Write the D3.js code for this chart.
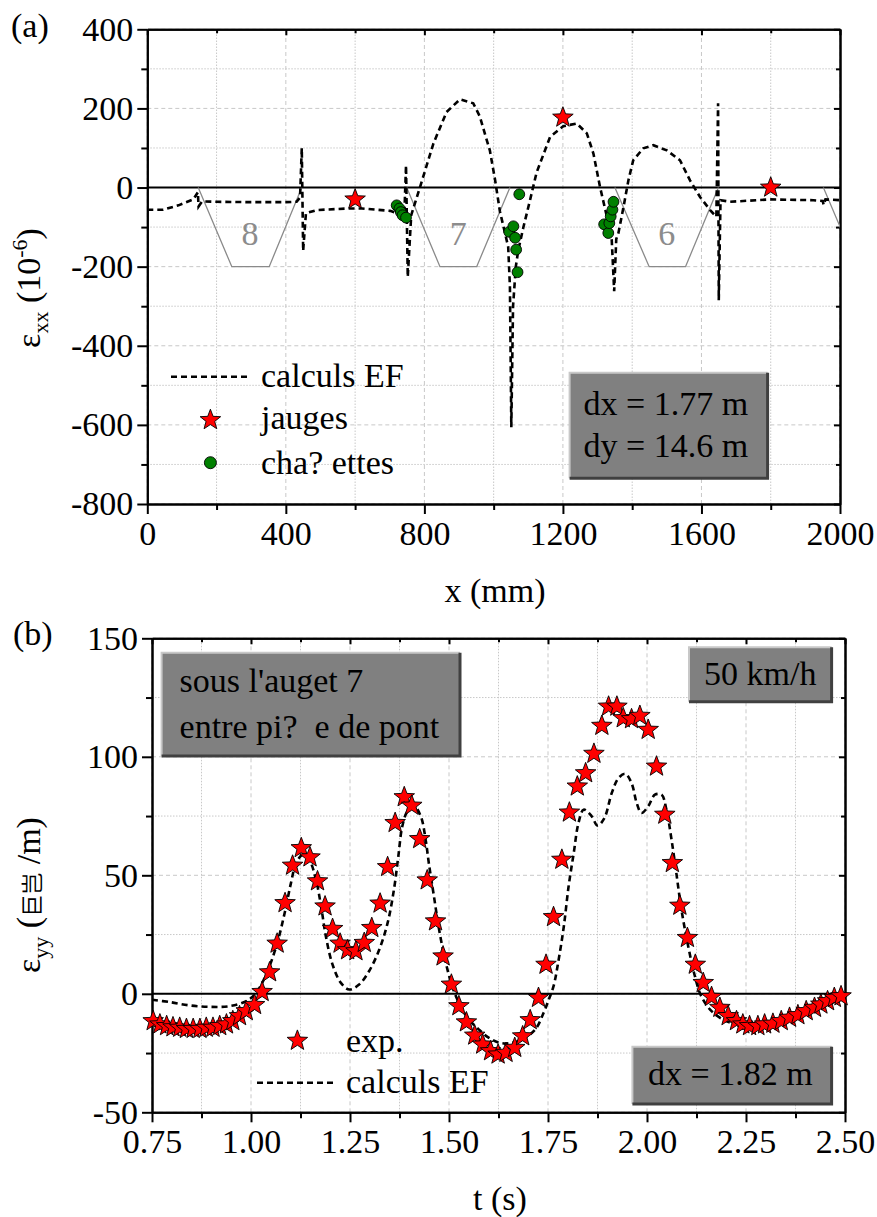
<!DOCTYPE html>
<html>
<head>
<meta charset="utf-8">
<script src="https://cdn.jsdelivr.net/npm/d3@7"></script>
<style>
  body { margin: 0; background: #fff; }
  svg text, svg tspan { font-family: 'Liberation Serif', 'LiberationSerif', 'Liberation Serif Regular', 'DejaVu Serif', 'Tinos', 'Times New Roman', Times, serif !important; }
  svg tspan.cjk { font-family: 'Noto Sans CJK SC', sans-serif !important; }
</style>
</head>
<body>
<svg id="fig" width="877" height="1217"></svg>
<script>
// ---------- panel (a) : strain along x ----------
const augetLabels = ['8', '7', '6', '']
const augetXs = [[147, 244, 352, 446], [749, 845, 951, 1047], [1350, 1449, 1554, 1649], [1952, 2049, 2155, 2252]]
const augetYs = [0, -200, -200, 0]

// calculs EF (mm, 1e-6)
const feAx = [0, 46, 90, 133, 146, 148, 158, 200, 300, 400, 431, 441, 446, 450, 458, 489, 576, 620, 701, 725, 742,
  747, 752, 762, 787, 826, 864, 903, 941, 960, 975, 989, 1004, 1018, 1030, 1042, 1047, 1051, 1056, 1064, 1071,
  1086, 1105, 1124, 1140, 1163, 1201, 1240, 1269, 1288, 1307, 1326, 1341, 1348, 1354, 1360, 1375, 1389, 1403,
  1432, 1461, 1500, 1538, 1567, 1596, 1625, 1643, 1648, 1650, 1655, 1683, 1798, 1923, 1950, 1953, 1958, 2000]
const feAy = [-56, -56, -45, -30, -12, -48, -35, -36, -37, -37, -36, -25, 100, -160, -65, -57, -53, -53, -59, -66, -72,
  56, -226, -70, 0, 111, 191, 223, 213, 180, 135, 94, 20, -60, -105, -150, -250, -606, -300, -200, -159,
  -100, -32, 38, 75, 128, 155, 162, 137, 86, 2, -70, -133, -262, -130, -116, -49, 18, 69,
  99, 107, 94, 69, 18, -24, -57, -74, 213, -285, -32, -36, -30, -32, -34, -44, -30, -32]

const jaugeX = [600, 1200, 1800]
const jaugeY = [-30, 177, 0]

const chainX = [720, 728, 732, 737, 747, 1074, 1045, 1057, 1062, 1065, 1069, 1319, 1331, 1334, 1338, 1343, 1346]
const chainY = [-45, -53, -62, -70, -76, -17, -112, -98, -127, -157, -214, -93, -115, -90, -73, -56, -36]

const aTicksX = [0, 400, 800, 1200, 1600, 2000]
const aMinorX = [200, 600, 1000, 1400, 1800]
const aTicksY = [-800, -600, -400, -200, 0, 200, 400]
const aMinorY = [-700, -500, -300, -100, 100, 300]

// ---------- panel (b) : strain vs time ----------
const expT = [0.753, 0.770, 0.787, 0.803, 0.820, 0.837, 0.854, 0.871, 0.887, 0.904, 0.921, 0.938, 0.954, 0.971, 0.988,
  1.009, 1.028, 1.047, 1.066, 1.086, 1.105, 1.127, 1.149, 1.168, 1.187, 1.206, 1.225, 1.244, 1.265, 1.286, 1.305,
  1.326, 1.345, 1.364, 1.387, 1.406, 1.426, 1.445, 1.466, 1.485, 1.506, 1.525, 1.544, 1.565, 1.585, 1.605, 1.624,
  1.644, 1.666, 1.686, 1.705, 1.726, 1.745, 1.764, 1.785, 1.804, 1.824, 1.845, 1.866, 1.886, 1.903, 1.924, 1.940,
  1.961, 1.982, 2.003, 2.024, 2.045, 2.064, 2.083, 2.102, 2.122, 2.142, 2.163, 2.184, 2.205, 2.226, 2.242, 2.259,
  2.280, 2.297, 2.318, 2.339, 2.360, 2.381, 2.402, 2.423, 2.439, 2.456, 2.473, 2.490]
const expV = [-11.5, -12.9, -13.6, -14.1, -14.3, -14.8, -14.8, -14.8, -14.3, -14.3, -13.6, -12.9, -11.5, -9.4, -7.3,
  -4.7, 0.8, 9.1, 21.2, 38.3, 54.1, 61.5, 57.6, 47.5, 36.9, 27.4, 21.2, 18.4, 18.0, 21.5, 27.8,
  38.1, 53.5, 72.1, 83.0, 79.4, 65.3, 47.9, 30.6, 15.8, 3.9, -5.2, -12.0, -17.6, -21.4, -24.2, -25.6,
  -24.9, -22.8, -17.9, -11.1, -1.7, 12.3, 32.4, 56.6, 76.5, 87.5, 93.1, 101.3, 113.1, 121.2, 121.2, 116.3,
  115.9, 117.3, 111.4, 95.9, 75.6, 55.2, 37.2, 23.6, 12.3, 4.6, -1.3, -5.9, -9.4, -11.5, -12.9, -13.6,
  -13.6, -12.9, -12.6, -11.5, -10.1, -9.0, -7.3, -5.9, -4.5, -3.1, -1.7, -1.0]

const feBt = [0.75, 0.795, 0.845, 0.896, 0.946, 0.988, 1.013, 1.038, 1.064, 1.085, 1.101, 1.114, 1.131, 1.147, 1.164,
  1.177, 1.189, 1.206, 1.227, 1.248, 1.273, 1.298, 1.324, 1.345, 1.361, 1.372, 1.382, 1.395, 1.412, 1.429, 1.441,
  1.449, 1.462, 1.475, 1.490, 1.508, 1.529, 1.550, 1.575, 1.600, 1.626, 1.651, 1.684, 1.718, 1.739, 1.752, 1.764,
  1.777, 1.790, 1.802, 1.815, 1.827, 1.840, 1.860, 1.875, 1.892, 1.911, 1.928, 1.945, 1.961, 1.974, 1.986, 2.003,
  2.020, 2.037, 2.049, 2.062, 2.074, 2.087, 2.104, 2.121, 2.137, 2.163, 2.20, 2.25, 2.30, 2.35, 2.40, 2.45, 2.50]
const feBv = [-2.5, -3.5, -4.9, -5.5, -5.2, -3.1, 0.4, 8.1, 20.1, 34.1, 46.8, 55.2, 58.7, 56.6, 48.2,
  36.9, 24.3, 12.3, 4.6, 1.8, 3.9, 9.5, 18.7, 29.9, 44.0, 58.0, 70.6, 77.0, 79.1, 74.8, 65.0,
  55.2, 41.1, 27.1, 14.5, 3.2, -5.2, -10.8, -15.0, -18.5, -20.6, -20.9, -19.3, -15.0, -8.0, -2.4, 3.2,
  14.5, 28.5, 45.3, 59.4, 72.1, 77.7, 75.0, 71.0, 74.0, 84.7, 91.0, 92.8, 88.9, 80.5, 76.3, 79.1,
  84.0, 84.0, 77.7, 65.0, 51.0, 35.5, 20.1, 7.4, -1.0, -7.3, -11.5, -13.5, -13.3, -11.2, -8.3, -5.0, -1.5]

const bTicksX = [0.75, 1.00, 1.25, 1.50, 1.75, 2.00, 2.25, 2.50]
const bMinorX = [0.875, 1.125, 1.375, 1.625, 1.875, 2.125, 2.375]
const bTicksY = [-50, 0, 50, 100, 150]
const bMinorY = [-25, 25, 75, 125]

const svg = d3.select('#fig')
const fontSize = 34
const dash = '6,4'

// star marker
function starPath(R) {
  const r = R * 0.42
  const pts = []
  for (let i = 0; i < 10; i++) {
    const a = -Math.PI / 2 + i * Math.PI / 5
    const rr = i % 2 ? r : R
    pts.push([rr * Math.cos(a), rr * Math.sin(a)])
  }
  return 'M' + pts.map(p => p[0].toFixed(2) + ',' + p[1].toFixed(2)).join('L') + 'Z'
}
const star = starPath(10.8)

// plain hyphen for negatives, like the original
const intFmt = d => String(d)
const twoDec = d => d.toFixed(2)

// grid + frame + ticks for one panel
function drawFrame(x, y, tx, mx, ty, my, fx, fy) {
  const [x0, x1] = x.range()
  const [y0, y1] = y.range() // y0 bottom, y1 top
  const g = svg.append('g')

  // grid
  g.selectAll('.gmx').data(mx).enter().append('line')
    .attr('x1', d => x(d)).attr('x2', d => x(d)).attr('y1', y0).attr('y2', y1)
    .attr('stroke', '#c8c8c8').attr('stroke-width', 1).attr('stroke-dasharray', '1.5,1.5')
  g.selectAll('.gmy').data(my).enter().append('line')
    .attr('y1', d => y(d)).attr('y2', d => y(d)).attr('x1', x0).attr('x2', x1)
    .attr('stroke', '#c8c8c8').attr('stroke-width', 1).attr('stroke-dasharray', '1.5,1.5')
  g.selectAll('.gtx').data(tx).enter().append('line')
    .attr('x1', d => x(d)).attr('x2', d => x(d)).attr('y1', y0).attr('y2', y1)
    .attr('stroke', '#c8c8c8').attr('stroke-width', 1).attr('stroke-dasharray', '4,3')
  g.selectAll('.gty').data(ty).enter().append('line')
    .attr('y1', d => y(d)).attr('y2', d => y(d)).attr('x1', x0).attr('x2', x1)
    .attr('stroke', '#c8c8c8').attr('stroke-width', 1).attr('stroke-dasharray', '4,3')

  // zero line
  g.append('line').attr('x1', x0).attr('x2', x1).attr('y1', y(0)).attr('y2', y(0))
    .attr('stroke', '#000').attr('stroke-width', 2)

  const axes = []
  // bottom (outward) with labels
  axes.push(svg.append('g').attr('transform', `translate(0,${y0})`)
    .call(d3.axisBottom(x).tickValues(tx).tickSize(10).tickSizeOuter(0).tickPadding(7).tickFormat(fx)))
  axes.push(svg.append('g').attr('transform', `translate(0,${y0})`)
    .call(d3.axisBottom(x).tickValues(mx).tickSize(6).tickSizeOuter(0).tickFormat('')))
  // left (outward) with labels
  axes.push(svg.append('g').attr('transform', `translate(${x0},0)`)
    .call(d3.axisLeft(y).tickValues(ty).tickSize(10).tickSizeOuter(0).tickPadding(4).tickFormat(fy)))
  axes.push(svg.append('g').attr('transform', `translate(${x0},0)`)
    .call(d3.axisLeft(y).tickValues(my).tickSize(6).tickSizeOuter(0).tickFormat('')))
  // top and right (inward, mirrored)
  axes.push(svg.append('g').attr('transform', `translate(0,${y1})`)
    .call(d3.axisBottom(x).tickValues(tx).tickSize(6).tickSizeOuter(0).tickFormat('')))
  axes.push(svg.append('g').attr('transform', `translate(0,${y1})`)
    .call(d3.axisBottom(x).tickValues(mx).tickSize(4).tickSizeOuter(0).tickFormat('')))
  axes.push(svg.append('g').attr('transform', `translate(${x1},0)`)
    .call(d3.axisLeft(y).tickValues(ty).tickSize(6).tickSizeOuter(0).tickFormat('')))
  axes.push(svg.append('g').attr('transform', `translate(${x1},0)`)
    .call(d3.axisLeft(y).tickValues(my).tickSize(4).tickSizeOuter(0).tickFormat('')))

  axes.forEach(a => {
    a.attr('font-family', null)
    a.select('.domain').attr('stroke', '#000').attr('stroke-width', 2)
    a.selectAll('.tick line').attr('stroke', '#000').attr('stroke-width', 2)
    a.selectAll('text').attr('font-size', fontSize).attr('fill', '#000')
  })
}

// grey Origin-style text box
function textBox(x, y, w, h, lines, tx, baselines) {
  const g = svg.append('g')
  g.append('rect').attr('x', x).attr('y', y).attr('width', w).attr('height', h).attr('fill', '#808080')
  g.append('path').attr('d', `M${x},${y + h}V${y}H${x + w}`).attr('fill', 'none')
    .attr('stroke', '#c8c8c8').attr('stroke-width', 2)
  g.append('path').attr('d', `M${x},${y + h}H${x + w}V${y}`).attr('fill', 'none')
    .attr('stroke', '#404040').attr('stroke-width', 3)
  lines.forEach((s, i) => {
    g.append('text').attr('x', tx).attr('y', baselines[i]).attr('font-size', fontSize)
      .attr('fill', '#000').style('white-space', 'pre').text(s)
  })
}

// ================= panel (a) =================
const xA = d3.scaleLinear().domain([0, 2000]).range([147.3, 840])
const yA = d3.scaleLinear().domain([-800, 400]).range([504, 29.3])

drawFrame(xA, yA, aTicksX, aMinorX, aTicksY, aMinorY, intFmt, intFmt)

svg.append('clipPath').attr('id', 'clipA').append('rect')
  .attr('x', 147.3).attr('y', 29.3).attr('width', 840 - 147.3).attr('height', 504 - 29.3)
const plotA = svg.append('g').attr('clip-path', 'url(#clipA)')

// augets (trapezoids)
augetXs.forEach((xs, i) => {
  plotA.append('path')
    .attr('d', d3.line()(xs.map((v, j) => [xA(v), yA(augetYs[j])])))
    .attr('fill', 'none').attr('stroke', '#8a8a8a').attr('stroke-width', 1.3)
  plotA.append('text')
    .attr('x', xA((xs[0] + xs[3]) / 2)).attr('y', yA(-146))
    .attr('text-anchor', 'middle').attr('font-size', fontSize).attr('fill', '#8c8c8c')
    .text(augetLabels[i])
})

plotA.append('path')
  .datum(feAx.map((v, i) => [v, feAy[i]]))
  .attr('fill', 'none').attr('stroke', '#000').attr('stroke-width', 2.6).attr('stroke-dasharray', dash)
  .attr('d', d3.line().x(d => xA(d[0])).y(d => yA(d[1])))

plotA.selectAll('.chain').data(chainX).enter().append('circle')
  .attr('cx', d => xA(d)).attr('cy', (d, i) => yA(chainY[i])).attr('r', 5.4)
  .attr('fill', '#008000').attr('stroke', '#000').attr('stroke-width', 0.9)

plotA.selectAll('.jauge').data(jaugeX).enter().append('path')
  .attr('d', star)
  .attr('transform', (d, i) => `translate(${xA(d)},${yA(jaugeY[i])})`)
  .attr('fill', '#ff0000').attr('stroke', '#000').attr('stroke-width', 0.9)

// legend (a)
svg.append('line').attr('x1', 171).attr('x2', 250).attr('y1', 376.7).attr('y2', 376.7)
  .attr('stroke', '#000').attr('stroke-width', 2.6).attr('stroke-dasharray', dash)
svg.append('text').attr('x', 261).attr('y', 387).attr('font-size', fontSize).text('calculs EF')
svg.append('path').attr('d', star).attr('transform', 'translate(210.4,420)')
  .attr('fill', '#ff0000').attr('stroke', '#000').attr('stroke-width', 0.9)
svg.append('text').attr('x', 261).attr('y', 429).attr('font-size', fontSize).text('jauges')
svg.append('circle').attr('cx', 210.4).attr('cy', 462.7).attr('r', 6)
  .attr('fill', '#008000').attr('stroke', '#000').attr('stroke-width', 0.9)
svg.append('text').attr('x', 261).attr('y', 474).attr('font-size', fontSize).text('cha? ettes')

textBox(569.6, 372.7, 198, 105.6, ['dx = 1.77 m', 'dy = 14.6 m'], 583.6, [415, 456.7])

// labels (a)
svg.append('text').attr('x', 11).attr('y', 37).attr('font-size', fontSize).text('(a)')
svg.append('text').attr('x', 495).attr('y', 601.7).attr('text-anchor', 'middle')
  .attr('font-size', fontSize).text('x (mm)')
const ylA = svg.append('text').attr('transform', 'translate(40,288) rotate(-90)')
  .attr('text-anchor', 'middle').attr('font-size', fontSize)
ylA.append('tspan').text('ε')
ylA.append('tspan').attr('dy', 8).attr('font-size', 22).text('xx')
ylA.append('tspan').attr('dy', -8).text(' (10')
ylA.append('tspan').attr('dy', -13).attr('font-size', 22).text('-6')
ylA.append('tspan').attr('dy', 13).text(')')

// ================= panel (b) =================
const xB = d3.scaleLinear().domain([0.75, 2.5]).range([152, 845])
const yB = d3.scaleLinear().domain([-50, 150]).range([1112.3, 638.3])

drawFrame(xB, yB, bTicksX, bMinorX, bTicksY, bMinorY, twoDec, intFmt)

svg.append('clipPath').attr('id', 'clipB').append('rect')
  .attr('x', 152).attr('y', 638.3).attr('width', 845 - 152).attr('height', 1112.3 - 638.3)
const plotB = svg.append('g').attr('clip-path', 'url(#clipB)')

textBox(161.6, 652.7, 298.4, 103.3, ["sous l'auget 7", 'entre pi?  e de pont'], 179.6, [691.7, 738.3])
textBox(689, 647.3, 142.6, 54.4, ['50 km/h'], 704, [685])

plotB.append('path')
  .datum(feBt.map((v, i) => [v, feBv[i]]))
  .attr('fill', 'none').attr('stroke', '#000').attr('stroke-width', 2.6).attr('stroke-dasharray', dash)
  .attr('d', d3.line().curve(d3.curveCatmullRom.alpha(0.5)).x(d => xB(d[0])).y(d => yB(d[1])))

svg.append('g').selectAll('.exp').data(expT).enter().append('path')
  .attr('d', star)
  .attr('transform', (d, i) => `translate(${xB(d)},${yB(expV[i])})`)
  .attr('fill', '#ff0000').attr('stroke', '#000').attr('stroke-width', 0.9)

textBox(632.4, 1046.7, 199.2, 57.3, ['dx = 1.82 m'], 648, [1085])

// legend (b)
svg.append('path').attr('d', star).attr('transform', 'translate(297.4,1040.7)')
  .attr('fill', '#ff0000').attr('stroke', '#000').attr('stroke-width', 0.9)
svg.append('text').attr('x', 346).attr('y', 1051.7).attr('font-size', fontSize).text('exp.')
svg.append('line').attr('x1', 257).attr('x2', 337).attr('y1', 1082.7).attr('y2', 1082.7)
  .attr('stroke', '#000').attr('stroke-width', 2.6).attr('stroke-dasharray', dash)
svg.append('text').attr('x', 346).attr('y', 1093.3).attr('font-size', fontSize).text('calculs EF')

// labels (b)
svg.append('text').attr('x', 13).attr('y', 645).attr('font-size', fontSize).text('(b)')
svg.append('text').attr('x', 500).attr('y', 1210).attr('text-anchor', 'middle')
  .attr('font-size', fontSize).text('t (s)')
const ylB = svg.append('text').attr('transform', 'translate(40,895) rotate(-90)')
  .attr('text-anchor', 'middle').attr('font-size', fontSize)
ylB.append('tspan').text('ε')
ylB.append('tspan').attr('dy', 8).attr('font-size', 22).text('yy')
ylB.append('tspan').attr('dy', -8).text(' (')
ylB.append('tspan').attr('class', 'cjk').attr('font-size', 22).text('巨岂')
ylB.append('tspan').text(' /m)')
</script>
</body>
</html>
